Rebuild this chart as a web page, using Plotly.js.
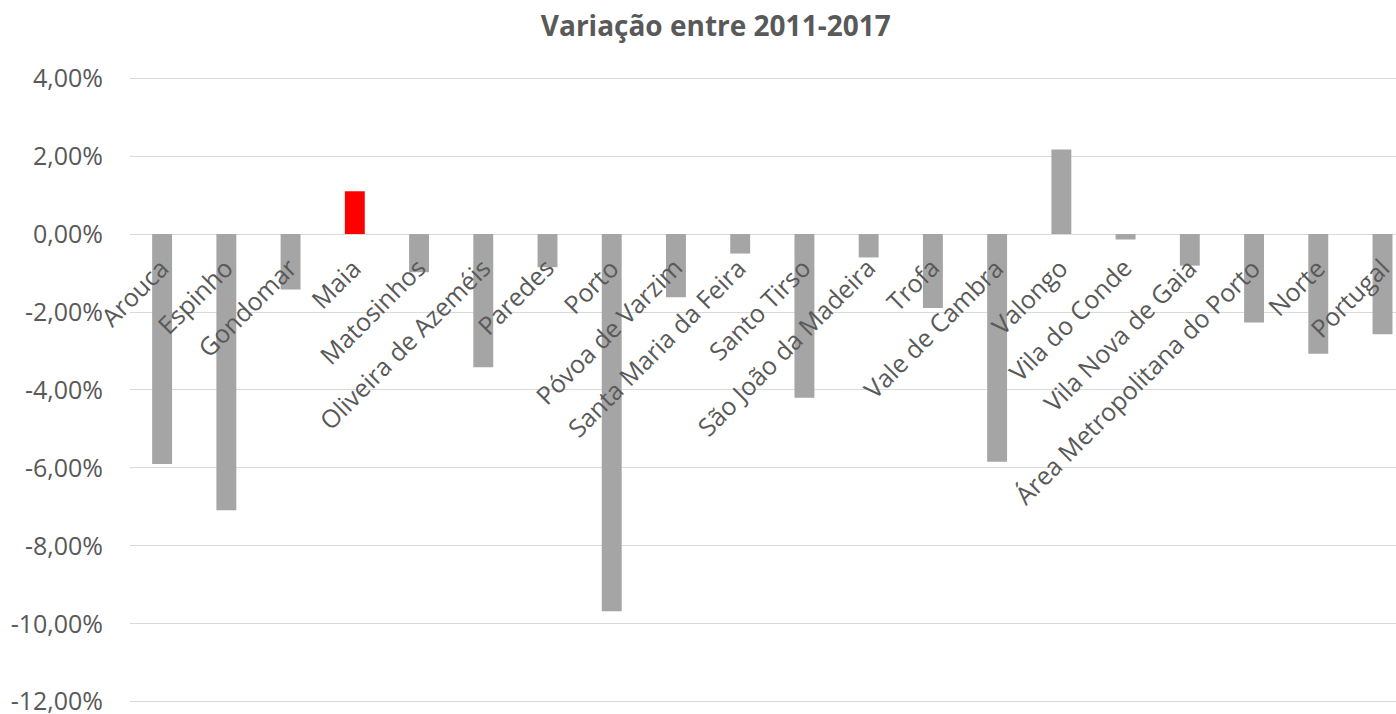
<!DOCTYPE html>
<html>
<head>
<meta charset="utf-8">
<script src="https://cdn.plot.ly/plotly-3.0.1.min.js"></script>
<style>html,body{margin:0;padding:0;background:#fff;}#chart{width:1396px;height:714px;}</style>
</head>
<body>
<div id="chart"></div>
<script>
const categories = ["Arouca","Espinho","Gondomar","Maia","Matosinhos","Oliveira de Azeméis","Paredes","Porto","Póvoa de Varzim","Santa Maria da Feira","Santo Tirso","São João da Madeira","Trofa","Vale de Cambra","Valongo","Vila do Conde","Vila Nova de Gaia","Área Metropolitana do Porto","Norte","Portugal"];
const variacao = [-5.90,-7.09,-1.42,1.10,-0.98,-3.42,-0.85,-9.68,-1.62,-0.50,-4.20,-0.60,-1.90,-5.84,2.17,-0.14,-0.81,-2.27,-3.07,-2.57];
const highlight = "Maia";
const yTicks = [-12,-10,-8,-6,-4,-2,0,2,4];
const yTickLabels = ["-12,00%","-10,00%","-8,00%","-6,00%","-4,00%","-2,00%","0,00%","2,00%","4,00%"];

const FONT = "Open Sans, sans-serif";
const GREY = "#595959";
const colors = categories.map(c => c === highlight ? "#FF0000" : "#A5A5A5");

const trace = {
  type: "bar",
  x: categories,
  y: variacao,
  marker: {color: colors},
  hoverinfo: "x+y"
};

const annotations = categories.map(c => ({
  x: c, y: 0, xref: "x", yref: "y",
  text: c, showarrow: false,
  textangle: -45,
  xanchor: "right", yanchor: "top",
  xshift: 16, yshift: -14,
  font: {family: FONT, size: 25, color: GREY}
}));

const layout = {
  width: 1396, height: 714,
  margin: {l: 130, r: 0, t: 77, b: 8, pad: 0},
  paper_bgcolor: "#fff", plot_bgcolor: "#fff",
  showlegend: false,
  bargap: 0.69,
  title: {
    text: "<b>Variação entre 2011-2017</b>",
    font: {family: FONT, size: 28, color: GREY},
    xref: "container", yref: "container",
    x: 0.5127, xanchor: "center",
    y: 0.963, yanchor: "middle"
  },
  xaxis: {
    type: "category",
    range: [-0.5, 19.21],
    showticklabels: false,
    showgrid: false, zeroline: false, showline: false, ticks: ""
  },
  yaxis: {
    range: [-12.11, 4.03],
    tickmode: "array",
    tickvals: yTicks,
    ticktext: yTickLabels,
    showgrid: true, gridcolor: "#D9D9D9", gridwidth: 1,
    zeroline: true, zerolinecolor: "#D9D9D9", zerolinewidth: 1,
    showline: false, ticks: "",
    ticklabelstandoff: 26,
    ticklabeloverflow: "allow",
    tickfont: {family: FONT, size: 25, color: GREY}
  },
  annotations: annotations
};

Plotly.newPlot("chart", [trace], layout, {displayModeBar: false, staticPlot: true});
</script>
</body>
</html>
